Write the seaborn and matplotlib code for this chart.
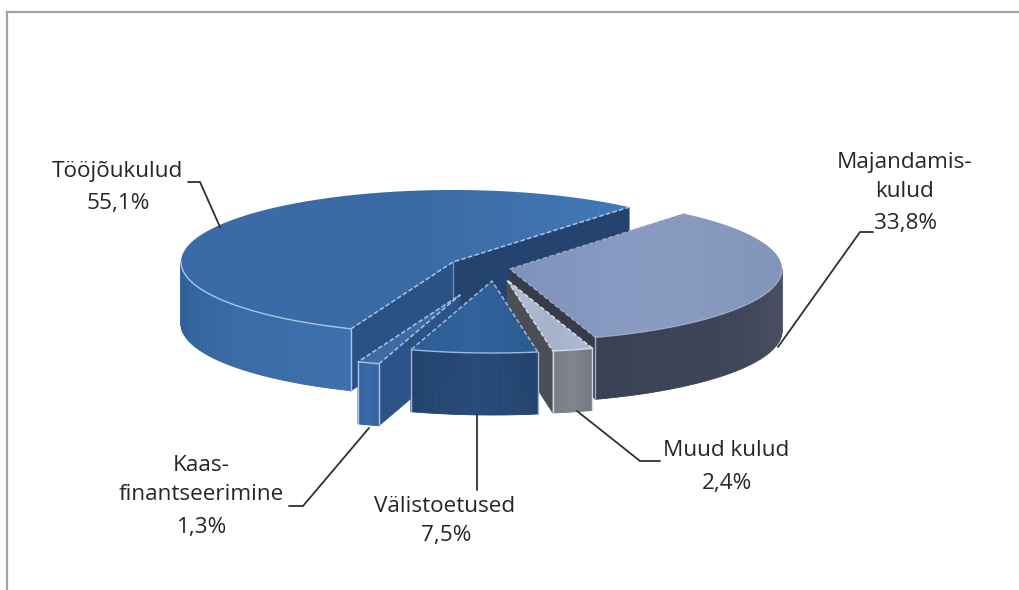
import numpy as np
import matplotlib
matplotlib.use('Agg')
import matplotlib.pyplot as plt
import seaborn as sns
from matplotlib.patches import Polygon

labels = ['Majandamis-\nkulud', 'Muud kulud', 'Välistoetused', 'Kaas-\nfinantseerimine', 'Tööjõukulud']
shares = [33.8, 2.4, 7.5, 1.3, 55.1]

# pie geometry, in picture pixels
START_ANGLE = 50
RX, RY = 272, 72
DEPTH = 62
APEX = [(510, 269), (507, 280), (492, 281), (460, 295), (453, 262)]
DRAW_ORDER = [4, 0, 1, 3, 2]

TOP_COLORS = [['#7E93BC', '#8A9CC2', '#8295BB'],
              ['#B4C0D4', '#A6B3CA', '#AEBACF'],
              ['#2F5D95', '#33639C', '#2C5A90'],
              ['#3C6CA6', '#3C6CA6', '#3C6CA6'],
              ['#3B6CA6', '#3A6AA3', '#4379B8']]
WALL_COLORS = [['#4C5062', '#3E4558', '#394254'],
               ['#73777F', '#80858F', '#787D88'],
               ['#24446F', '#28497A', '#24446F'],
               ['#34649F', '#3A6BA7', '#34649F'],
               ['#3D70AC', '#3A6AA5', '#2F5F97']]
# side faces at the first and last edge of each slice
START_FACE = ['#3A3F4D', '#3A3F4D', '#21406F', '#2C5488', '#2B5284']
END_FACE = ['#383C49', '#4C4E56', '#21406F', '#2C5488', '#24446F']
EDGE_LIGHT = ['#9AA9C8', '#D5DBE6', '#9DB8DA', '#A9C6E8', '#A9C6E8']

LABEL_POS = [(905, 177), (726, 451), (445, 506), (201, 480), (117, 172)]
PERCENT_Y = [224, 483, 536, 528, 204]
LEADERS = [[(873, 232), (860, 232), (778, 347)],
           [(660, 461), (640, 461), (577, 411)],
           [(477, 490), (477, 414)],
           [(289, 506), (303, 506), (369, 428)],
           [(188, 182), (200, 182), (220, 227)]]


def arc(apex, t0, t1, n=80):
    t = np.radians(np.linspace(t0, t1, n))
    return apex[0] + RX * np.cos(t), apex[1] - RY * np.sin(t)


def draw_slice(ax, i, t0, t1, z):
    apex = APEX[i]
    ax_, ay_ = apex
    xs, ys = arc(apex, t0, t1)

    # flat side faces from the centre out to the rim
    for x, y, c in ((xs[0], ys[0], START_FACE[i]), (xs[-1], ys[-1], END_FACE[i])):
        ax.fill([ax_, x, x, ax_], [ay_, y, y + DEPTH, ay_ + DEPTH], color=c, lw=0.5, zorder=z)

    # rim: only the front half of the ellipse shows
    lo, hi = max(t1, -180), min(t0, 0)
    if hi > lo:
        tt = np.linspace(hi, lo, 60)
        pal = sns.blend_palette(WALL_COLORS[i], len(tt) - 1)
        rx, ry = arc(apex, hi, lo, 60)
        for k in range(len(tt) - 1):
            ax.fill([rx[k], rx[k + 1], rx[k + 1], rx[k]],
                    [ry[k], ry[k + 1], ry[k + 1] + DEPTH, ry[k] + DEPTH],
                    color=pal[k], lw=0.6, zorder=z + 1)
        # light corner lines on the rim
        for k in (0, -1):
            if t1 > -180 and k == -1 or t0 < 0 and k == 0:
                ax.plot([rx[k], rx[k]], [ry[k], ry[k] + DEPTH], color=EDGE_LIGHT[i],
                        lw=1.0, zorder=z + 3)

    # top face with a soft left-right gradient
    px = np.r_[ax_, xs]
    py = np.r_[ay_, ys]
    cmap = sns.blend_palette(TOP_COLORS[i], as_cmap=True)
    im = ax.imshow(np.linspace(0, 1, 256)[None, :], cmap=cmap, aspect='auto',
                   extent=(px.min(), px.max(), py.max(), py.min()), zorder=z + 2)
    im.set_clip_path(Polygon(np.c_[px, py], closed=True, transform=ax.transData))

    # light edges around the top face
    ax.plot([xs[0], ax_, xs[-1]], [ys[0], ay_, ys[-1]], color=EDGE_LIGHT[i], lw=1.1,
            ls=(0, (3, 1.5)), zorder=z + 3)
    if hi > lo:
        rx, ry = arc(apex, hi, lo, 60)
        ax.plot(rx, ry, color=EDGE_LIGHT[i], lw=1.0, zorder=z + 3)
    # the big slice has a visible fold where its two side faces meet
    if t0 - t1 > 180:
        ax.plot([ax_, ax_], [ay_, ay_ + DEPTH * 0.65], color='#6F8FB8', lw=1.0, zorder=z + 3)


sns.set_theme(style='ticks')
plt.rcParams['font.family'] = ['Open Sans', 'DejaVu Sans']

fig = plt.figure(figsize=(10.2, 5.9), dpi=100)
ax = fig.add_axes([7 / 1020, 0, 1013 / 1020, 578 / 590])

# slice angles, clockwise from the start angle
edges = START_ANGLE - np.r_[0, np.cumsum(shares)] / 100 * 360
for n, i in enumerate(DRAW_ORDER):
    draw_slice(ax, i, edges[i], edges[i + 1], 10 * (n + 1))

for i, name in enumerate(labels):
    x, y = LABEL_POS[i]
    ax.text(x, y, name, ha='center', va='center', fontsize=16.2, color='#262626',
            linespacing=1.5, zorder=90)
    ax.text(x + 1, PERCENT_Y[i], f'{shares[i]:.1f}%'.replace('.', ','), ha='center', va='center',
            fontsize=16.2, color='#262626', zorder=90)
    pts = np.array(LEADERS[i])
    ax.plot(pts[:, 0], pts[:, 1], color='#303030', lw=1.3, zorder=80)

ax.set_xlim(7, 1020)
ax.set_ylim(590, 12)
ax.set_xticks([])
ax.set_yticks([])
sns.despine(ax=ax, top=False, left=False, right=True, bottom=True)
for side in ('top', 'left'):
    ax.spines[side].set_color('#A3A3A3')
    ax.spines[side].set_linewidth(1.6)

plt.savefig('out.png', dpi=100)
plt.close()
